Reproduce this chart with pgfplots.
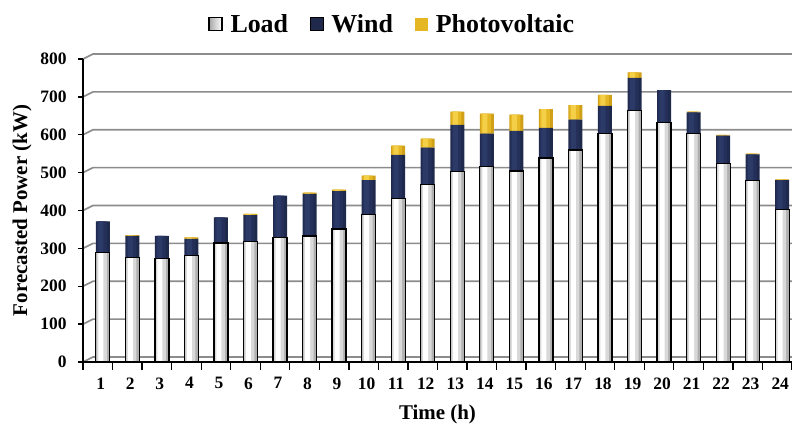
\documentclass[border=0pt]{standalone}
\usepackage{fontspec}
\setmainfont{Liberation Serif}
\usepackage{pgfplots}
\pgfplotsset{compat=1.18}
\definecolor{windc}{HTML}{1E294C}
\definecolor{windm}{HTML}{24305A}
\definecolor{windl}{HTML}{2C3A68}
\definecolor{pvc}{HTML}{E6B724}
\definecolor{pvl}{HTML}{F4CF48}
\definecolor{pvd}{HTML}{CFA018}
\definecolor{gridc}{HTML}{8C8C8C}
\pgfplotstableread{
h load wind pv
1 289 82 0
2 276 57 2
3 274 59 0
4 282 43 4
5 314 68 0
6 318 70 3
7 329 110 0
8 333 111 3
9 351 100 4
10 390 90 12
11 432 115 24
12 469 97 24
13 503 123 35
14 516 87 53
15 504 106 43
16 539 79 50
17 560 80 38
18 603 73 29
19 664 86 15
20 633 85 0
21 603 56 2
22 524 74 2
23 480 68 2
24 402 78 2
}\data
\pgfplotsset{base/.style={at={(0,0)}, anchor=south west,
  scale only axis, width=709bp, height=303bp,
  xmin=0.5, xmax=24.5, ymin=0, ymax=800, clip=false}}
\begin{document}
\begin{tikzpicture}
% back-wall grid
\begin{axis}[base, hide axis]
\pgfplotsinvokeforeach{0,100,...,800}{
  \draw[gridc, line width=1.7bp] (axis cs:0.5,#1) -- ([xshift=10bp,yshift=5bp]axis cs:0.5,#1) -- ([yshift=5bp]axis cs:24.5,#1);
}
\end{axis}
% main stacked bars, axes, labels, legend
\begin{axis}[base,
  ybar stacked, bar width=14bp, bar shift=5bp,
  xtick={1,...,24}, minor xtick={0.5,1.5,...,24.5},
  ytick={0,100,...,800},
  axis x line*=bottom, axis y line*=left,
  axis line style={-, black, line width=1.5bp},
  tick align=outside, major tick length=5bp, minor tick length=8bp,
  tick style={black, line width=1.3bp},
  major x tick style={draw=none},
  /pgf/number format/assume math mode=true,
  tick label style={font=\fontsize{17.5}{17.5}\selectfont\bfseries},
  x tick label style={yshift=-7bp, xshift=3bp},
  y tick label style={xshift=-8bp},
  xlabel={Time (h)}, ylabel={Forecasted Power (kW)},
  label style={font=\fontsize{21}{21}\selectfont\bfseries},
  xlabel style={yshift=-9bp},
  ylabel style={yshift=2bp},
  legend columns=3,
  legend style={draw=none, fill=none, font=\fontsize{26}{26}\selectfont\bfseries,
    at={(0.436,1.1155)}, anchor=center,
    /tikz/every odd column/.append style={column sep=6bp},
    /tikz/every even column/.append style={column sep=20bp}},
  legend image code/.code={\draw[#1] (0bp,-6.5bp) rectangle (13bp,6.5bp);},
]
\addplot[draw=none, fill=gray!62, legend image code/.code={\draw[black, line width=1.3bp, left color=gray!70, right color=white] (0bp,-6.5bp) rectangle (13bp,6.5bp);}] table[x=h, y=load] {\data};
\addlegendentry{Load}
\addplot[draw=none, fill=windc] table[x=h, y=wind] {\data};
\addlegendentry{Wind}
\addplot[draw=none, fill=pvd, legend image code/.code={\draw[draw=none, fill=pvc] (0bp,-6.5bp) rectangle (13bp,6.5bp);}] table[x=h, y=pv] {\data};
\addlegendentry{Photovoltaic}
\end{axis}
% cylinder highlight, wide
\begin{axis}[base, hide axis, ybar stacked, bar width=10bp, bar shift=4bp]
\addplot[draw=none, fill=gray!30] table[x=h, y=load] {\data};
\addplot[draw=none, fill=windm] table[x=h, y=wind] {\data};
\addplot[draw=none, fill=pvc] table[x=h, y=pv] {\data};
\end{axis}
% cylinder highlight, narrow
\begin{axis}[base, hide axis, ybar stacked, bar width=5bp, bar shift=3bp]
\addplot[draw=none, fill=white] table[x=h, y=load] {\data};
\addplot[draw=none, fill=windl] table[x=h, y=wind] {\data};
\addplot[draw=none, fill=pvl] table[x=h, y=pv] {\data};
\end{axis}
% load outline
\begin{axis}[base, hide axis, ybar stacked, bar width=14bp, bar shift=5bp]
\addplot[draw=black, line width=1.3bp, fill=none] table[x=h, y=load] {\data};
\end{axis}
\pgfresetboundingbox
\path[use as bounding box] (-83bp,-62bp) rectangle (709bp,362bp);
\end{tikzpicture}
\end{document}
